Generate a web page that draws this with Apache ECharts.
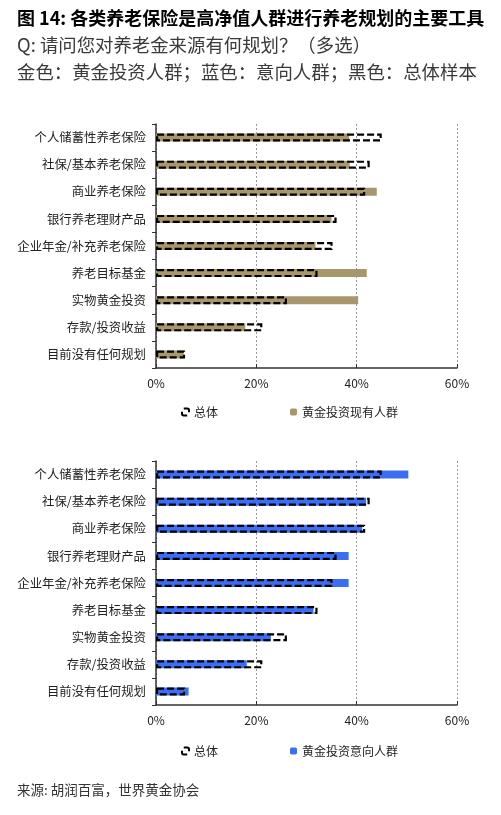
<!DOCTYPE html>
<html>
<head>
<meta charset="utf-8">
<script src="https://cdn.jsdelivr.net/npm/echarts@6/dist/echarts.min.js"></script>
<style>html,body{margin:0;padding:0;background:#fff}#c{width:501px;height:815px}</style>
</head>
<body>
<div id="c"></div>
<script>
const categories = ['个人储蓄性养老保险','社保/基本养老保险','商业养老保险','银行养老理财产品','企业年金/补充养老保险','养老目标基金','实物黄金投资','存款/投资收益','目前没有任何规划'];
const totalValues = [45.0, 42.6, 41.7, 36.0, 35.2, 32.2, 26.1, 21.2, 5.8];
const goldValues = [38.5, 38.6, 44.0, 35.0, 31.8, 42.0, 40.3, 17.8, 5.5];
const intentValues = [50.3, 41.9, 41.1, 38.4, 38.4, 31.4, 22.9, 18.1, 6.5];
const xTicks = [0, 20, 40, 60];

const FONT = '"Noto Sans CJK SC", "Noto Sans", sans-serif';
const GOLD = '#a8966c';
const BLUE = '#3b6ef3';

const chart = echarts.init(document.getElementById('c'), null, {renderer: 'canvas'});

function xAxisCfg(gi) {
  return {
    gridIndex: gi, type: 'value', min: xTicks[0], max: xTicks[xTicks.length - 1], interval: 20,
    axisLine: {show: true, lineStyle: {color: '#333', width: 1.5}},
    axisTick: {show: true, inside: true, length: 4, lineStyle: {color: '#333'}},
    axisLabel: {formatter: v => v + '%', fontSize: 12, color: '#222', fontFamily: FONT, margin: 9},
    splitLine: {show: true, lineStyle: {color: '#999', type: [2, 2], width: 1}}
  };
}
function yAxisCfg(gi) {
  return {
    gridIndex: gi, type: 'category', data: categories, inverse: true,
    axisLine: {show: true, lineStyle: {color: '#333', width: 1.5}},
    axisTick: {show: true, length: 4, lineStyle: {color: '#333'}},
    axisLabel: {fontSize: 12.4, color: '#222', fontFamily: FONT, margin: 10},
    splitLine: {show: false}
  };
}
const dashStyle = {color: 'rgba(0,0,0,0)', borderColor: '#000', borderWidth: 2.2, borderType: [7, 3]};

chart.setOption({
  animation: false,
  textStyle: {fontFamily: FONT},
  title: [
    {text: '图 14: 各类养老保险是高净值人群进行养老规划的主要工具', left: 17, top: 9, padding: 0,
     textStyle: {fontSize: 18, fontWeight: 'bold', color: '#000', fontFamily: FONT}},
    {text: 'Q: 请问您对养老金来源有何规划？（多选）', left: 17, top: 36, padding: 0,
     textStyle: {fontSize: 18.4, fontWeight: 'normal', color: '#3a3a3a', fontFamily: FONT}},
    {text: '金色：黄金投资人群；蓝色：意向人群；黑色：总体样本', left: 17, top: 63, padding: 0,
     textStyle: {fontSize: 18.4, fontWeight: 'normal', color: '#3a3a3a', fontFamily: FONT}},
    {text: '来源: 胡润百富，世界黄金协会', left: 17, top: 783, padding: 0,
     textStyle: {fontSize: 13.5, fontWeight: 'normal', color: '#333', fontFamily: FONT}}
  ],
  legend: [
    {data: [{name: '总体', itemStyle: {color: '#fff', borderColor: '#000', borderWidth: 2, borderType: 'dashed'}}, '黄金投资现有人群'],
     left: 181, top: 406, itemWidth: 7, itemHeight: 7, itemGap: 72, padding: 0,
     textStyle: {fontSize: 12, color: '#222', fontFamily: FONT}},
    {data: [{name: '总体', itemStyle: {color: '#fff', borderColor: '#000', borderWidth: 2, borderType: 'dashed'}}, '黄金投资意向人群'],
     left: 181, top: 745, itemWidth: 7, itemHeight: 7, itemGap: 72, padding: 0,
     textStyle: {fontSize: 12, color: '#222', fontFamily: FONT}}
  ],
  grid: [
    {left: 156, width: 301, top: 124, height: 244},
    {left: 156, width: 301, top: 461, height: 244}
  ],
  xAxis: [xAxisCfg(0), xAxisCfg(1)],
  yAxis: [yAxisCfg(0), yAxisCfg(1)],
  series: [
    {name: '黄金投资现有人群', type: 'bar', xAxisIndex: 0, yAxisIndex: 0, data: goldValues,
     barWidth: 8, barGap: '-100%', itemStyle: {color: GOLD}, z: 2},
    {name: '总体', type: 'bar', xAxisIndex: 0, yAxisIndex: 0, data: totalValues,
     barWidth: 8, barGap: '-100%', itemStyle: dashStyle, z: 3},
    {name: '黄金投资意向人群', type: 'bar', xAxisIndex: 1, yAxisIndex: 1, data: intentValues,
     barWidth: 8, barGap: '-100%', itemStyle: {color: BLUE}, z: 2},
    {name: '总体', type: 'bar', xAxisIndex: 1, yAxisIndex: 1, data: totalValues,
     barWidth: 8, barGap: '-100%', itemStyle: dashStyle, z: 3}
  ]
});
</script>
</body>
</html>
